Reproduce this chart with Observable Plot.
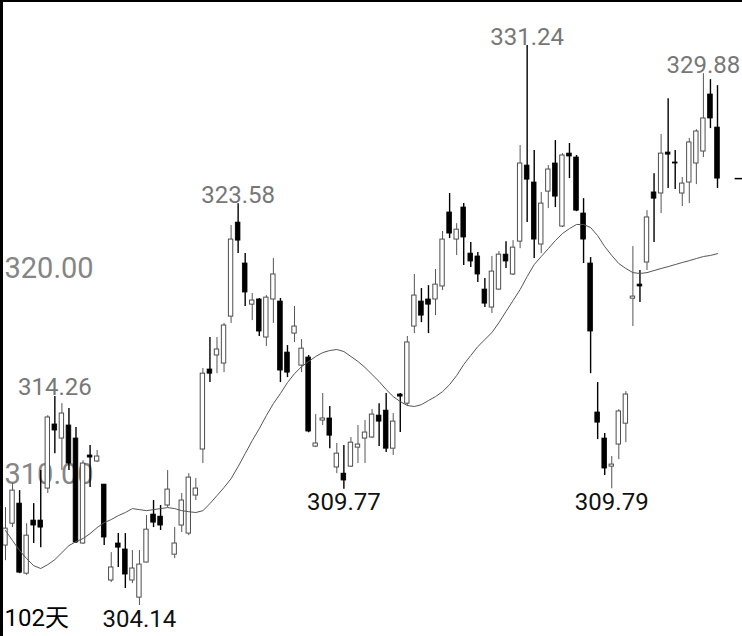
<!DOCTYPE html>
<html><head><meta charset="utf-8">
<script src="https://cdn.jsdelivr.net/npm/d3@7"></script>
<script src="https://cdn.jsdelivr.net/npm/@observablehq/plot@0.6"></script>
<style>
html,body{margin:0;padding:0;background:#fff;}
#wrap{position:relative;width:742px;height:636px;overflow:hidden;background:#fff;}
#wrap svg{position:absolute;left:0;top:0;}
.bt{position:absolute;left:0;top:0;width:742px;height:1.5px;background:#000;z-index:2;}
.bl{position:absolute;left:0;top:0;width:3px;height:636px;background:#000;z-index:2;}
</style></head><body><div id="wrap"><div class="bt"></div><div class="bl"></div></div>
<script>
const open = [307.04,308.10,309.07,305.68,308.25,308.25,309.80,312.90,312.22,312.85,
312.22,307.14,311.40,311.11,309.99,305.35,307.14,306.85,305.35,304.52,
306.22,308.54,308.44,308.98,306.60,308.01,307.62,309.46,311.69,315.56,
316.24,315.85,318.12,322.67,320.69,318.70,318.95,317.11,318.95,318.85,
316.38,317.30,315.75,316.14,311.83,313.09,313.19,310.82,310.52,310.86,
311.78,312.22,312.27,313.33,313.57,311.73,314.35,313.91,317.64,318.85,
318.95,318.95,319.58,323.16,321.85,323.40,321.17,321.03,319.43,318.56,
319.43,321.12,320.16,321.75,325.43,324.61,321.61,324.17,325.53,322.48,
326.01,325.82,323.11,320.69,313.48,312.22,310.86,311.93,312.94,318.99,
319.67,320.74,324.13,324.08,326.06,325.58,324.08,324.61,325.53,326.11,
328.87,327.27];
const high = [308.88,310.04,309.70,308.10,309.07,310.67,313.33,314.26,313.91,313.67,
312.75,311.15,311.88,311.64,310.00,306.70,307.62,307.62,306.80,306.80,
308.49,309.22,308.98,310.67,307.91,309.56,310.52,310.28,315.61,317.11,
317.11,317.79,322.53,323.58,321.17,319.24,319.00,319.14,320.93,319.00,
316.72,318.61,317.01,316.24,313.38,314.40,313.77,311.98,311.88,312.27,
312.85,313.09,313.62,313.91,314.40,313.43,314.40,317.16,320.16,319.48,
319.62,320.40,322.24,324.08,322.62,323.59,321.71,321.22,319.96,321.03,
321.27,321.75,321.80,326.40,331.24,326.16,324.13,325.43,326.64,326.01,
326.50,325.92,323.83,320.98,314.93,312.46,311.35,313.62,314.49,321.51,
320.35,323.25,325.04,326.93,328.67,326.16,324.85,326.74,327.17,329.88,
329.59,329.30];
const low = [306.31,307.91,305.68,305.60,307.14,306.94,309.56,311.49,310.67,310.67,
307.14,307.10,309.85,311.06,307.04,305.25,305.98,304.96,305.20,304.14,
306.20,307.91,307.77,308.88,306.41,307.67,307.52,309.22,311.01,314.93,
315.36,315.41,317.79,321.17,318.61,317.93,317.16,316.67,317.79,314.93,
315.17,316.87,315.41,312.50,311.78,312.85,311.73,310.52,309.77,310.82,
311.01,311.01,312.22,311.83,311.54,311.40,312.51,313.77,317.30,317.83,
317.30,318.17,319.38,321.90,321.08,320.59,320.50,319.77,318.56,318.27,
319.38,320.45,320.11,321.41,322.67,320.93,321.17,323.35,323.40,322.43,
324.80,323.20,320.69,315.36,312.17,310.43,309.79,311.20,312.02,317.64,
318.80,320.35,321.71,323.11,324.32,324.27,323.45,323.59,324.51,325.82,
327.22,324.32];
const close = [307.86,309.70,305.73,307.52,308.01,307.91,313.24,312.61,313.43,311.01,
307.19,311.01,311.30,311.35,307.43,305.98,306.94,305.64,305.93,306.12,
307.81,308.15,308.01,309.75,307.14,309.22,310.33,309.80,315.36,315.36,
316.53,317.69,321.85,321.80,319.29,318.90,317.40,319.04,320.16,315.51,
315.41,317.64,316.57,312.56,311.98,313.19,312.36,311.49,310.19,312.02,
311.93,312.51,313.38,313.04,311.73,313.04,314.25,316.87,319.14,318.17,
318.70,319.67,321.85,322.14,322.33,321.95,320.79,320.16,318.75,320.30,
321.12,320.79,321.46,325.53,324.75,321.85,323.59,325.24,323.93,325.92,
325.87,323.25,321.85,317.40,312.99,310.77,310.96,313.53,314.35,319.09,
319.58,322.92,323.83,326.01,325.96,325.53,324.56,326.55,327.08,327.71,
327.71,324.80];
const ma = [307.77,307.28,306.80,306.41,306.07,305.93,306.12,306.36,306.70,307.04,
307.23,307.38,307.62,307.91,308.15,308.30,308.49,308.64,308.83,308.78,
308.73,308.78,308.83,308.88,308.83,308.73,308.68,308.64,308.73,309.07,
309.46,309.85,310.28,310.86,311.49,312.12,312.70,313.33,313.91,314.40,
314.93,315.36,315.70,315.95,316.19,316.38,316.48,316.53,316.43,316.19,
315.95,315.66,315.32,314.98,314.59,314.25,314.01,313.82,313.77,313.86,
314.06,314.25,314.49,314.83,315.27,315.80,316.24,316.67,317.01,317.35,
317.83,318.37,318.90,319.43,320.06,320.64,321.03,321.41,321.80,322.14,
322.38,322.58,322.58,322.43,322.04,321.51,321.08,320.69,320.45,320.25,
320.21,320.25,320.35,320.45,320.54,320.64,320.74,320.83,320.93,321.03,
321.08,321.17];
const highLabelDays = [8, 34, 75, 100];
const lowLabelDays = [20, 49, 87];
const priceLabels = [310, 320];

const rows = open.map((o, k) => ({i: k + 1, open: o, high: high[k], low: low[k], close: close[k], ma: ma[k], up: close[k] >= o}));
const ups = rows.filter(d => d.up);
const downs = rows.filter(d => !d.up);
const last = rows[rows.length - 1];

const chart = Plot.plot({
  width: 742, height: 636,
  marginLeft: 5, marginRight: 25, marginTop: 0, marginBottom: 0,
  style: {fontFamily: "Roboto, 'Noto Sans CJK SC', sans-serif", background: "transparent"},
  x: {type: "linear", domain: [1, 102], axis: null},
  y: {domain: [302.64, 333.42], axis: null},
  marks: [
    Plot.text(priceLabels, {frameAnchor: "left", y: d => d, text: d => d.toFixed(2), textAnchor: "start", lineAnchor: "bottom", fontSize: 29, fill: "#858585", dx: -1}),
    Plot.ruleX(ups, {x: "i", y1: "low", y2: "high", stroke: "#555", strokeWidth: 1}),
    Plot.ruleX(downs, {x: "i", y1: "low", y2: "high", stroke: "#000", strokeWidth: 1.4}),
    Plot.rect(ups, {x1: d => d.i - 0.31, x2: d => d.i + 0.31, y1: "open", y2: "close", fill: "#fff", stroke: "#4d4d4d", strokeWidth: 1}),
    Plot.rect(downs, {x1: d => d.i - 0.33, x2: d => d.i + 0.33, y1: "open", y2: "close", fill: "#000", stroke: "#000", strokeWidth: 0.8}),
    Plot.line(rows, {x: "i", y: "ma", stroke: "#555", strokeWidth: 1}),
    Plot.text(rows.filter(d => highLabelDays.includes(d.i)), {x: "i", y: "high", text: d => d.high.toFixed(2), fill: "#777", fontSize: 24, lineAnchor: "bottom", dy: -1}),
    Plot.text(rows.filter(d => lowLabelDays.includes(d.i)), {x: "i", y: "low", text: d => d.low.toFixed(2), fill: "#111", fontSize: 24, lineAnchor: "top", dy: 4}),
    Plot.text([`${rows.length}天`], {frameAnchor: "bottom-left", textAnchor: "start", lineAnchor: "bottom", dy: -11, dx: -1, fontSize: 24, fill: "#000"}),
    Plot.ruleY([last], {y: "close", x1: d => d.i + 2.5, x2: d => d.i + 3.6, stroke: "#000", strokeWidth: 1.5})
  ]
});
document.getElementById("wrap").appendChild(chart);
</script>
</body></html>
